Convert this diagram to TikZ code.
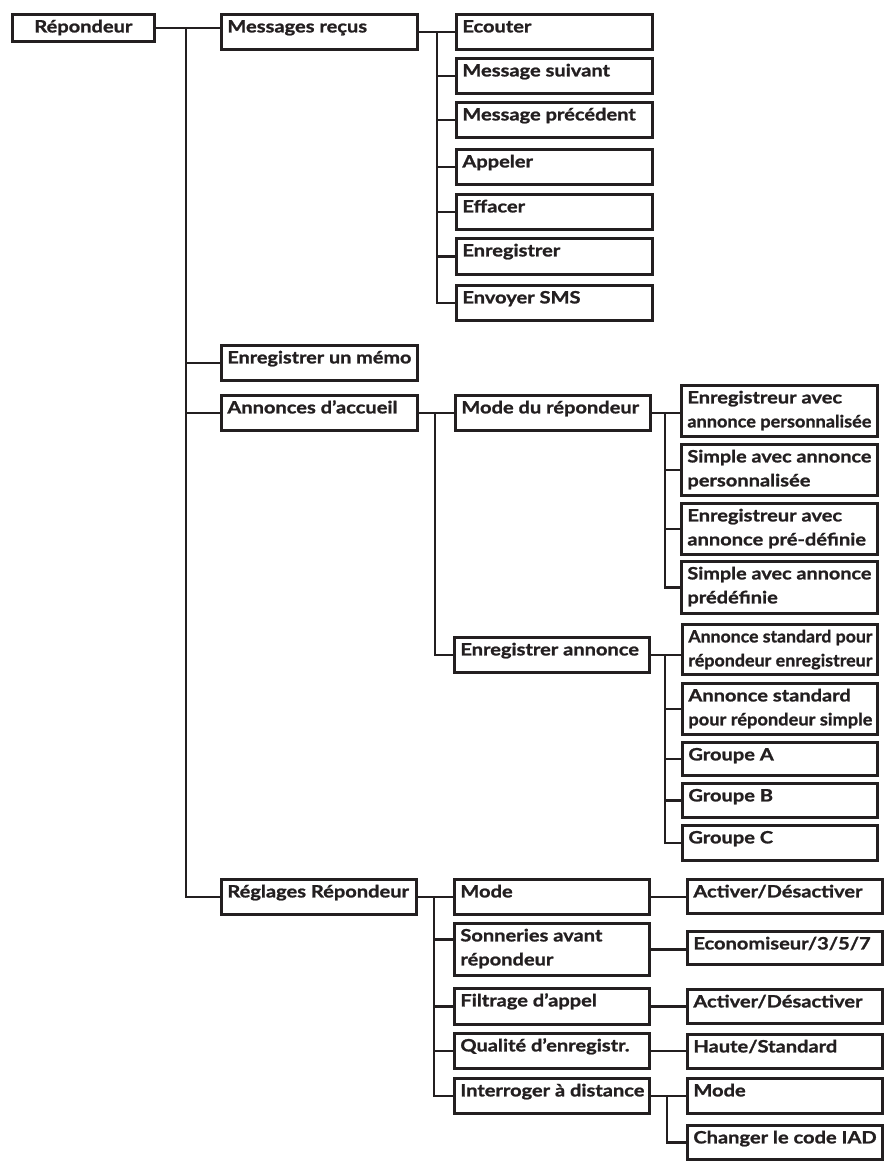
\documentclass[tikz,border=0pt]{standalone}
\usepackage{fontspec}
\setmainfont{Lato}[FakeStretch=1.18, BoldFeatures={FakeBold=1.2}]
\usepackage{graphicx}
\usetikzlibrary{positioning}
\definecolor{ink}{RGB}{35,31,32}
% squeeze a line that would not fit in a box
\newsavebox{\fitbox}
\newcommand{\fitline}[1]{\sbox{\fitbox}{#1}\ifdim\wd\fitbox>184pt\resizebox{184pt}{\height}{#1}\else\usebox{\fitbox}\fi}
% box content: width, height, text (top aligned)
\newcommand{\mitem}[4][\leftskip=6pt]{\parbox[c][#3pt][t]{#2pt}{\rightskip=0pt plus 1fil #1\baselineskip=24pt\rule{0pt}{18pt}#4}}
\newcommand{\mitemii}[4]{\mitem{#1}{#2}{\fitline{#3}\\\fitline{#4}}}
\tikzset{
    menu/.style={draw=ink, line width=2.8pt, inner sep=0pt, anchor=north west, text=ink, font=\fontsize{17pt}{24pt}\selectfont\bfseries},
    link/.style={draw=ink, line width=2.8pt},
}

\begin{document}
\begin{tikzpicture}[x=1pt, y=-1pt]
    \useasboundingbox (0,0) rectangle (890,1168);

    % Root and first level
    \node[menu] (repondeur) at (11,13) {\mitem[\centering]{142}{27}{Répondeur}};
    \node[menu] (messages) at (220,13) {\mitem{196}{35}{\fitline{Messages reçus}}};
    \node[menu] (memo) at (220,344) {\mitem{196}{35}{\fitline{Enregistrer un mémo}}};
    \node[menu] (annonces) at (220,394) {\mitem{196}{35}{\fitline{Annonces d’accueil}}};
    \node[menu] (reglages) at (220,878) {\mitem{195}{35}{\fitline{Réglages Répondeur}}};

    % Messages recus
    \node[menu] (ecouter) at (455,13) {\mitem{196}{35}{\fitline{Ecouter}}};
    \node[menu] (suivant) at (455,57) {\mitem{196}{35}{\fitline{Message suivant}}};
    \node[menu] (precedent) at (455,101) {\mitem{196}{35}{\fitline{Message précédent}}};
    \node[menu] (appeler) at (455,148) {\mitem{196}{35}{\fitline{Appeler}}};
    \node[menu] (effacer) at (455,193) {\mitem{196}{35}{\fitline{Effacer}}};
    \node[menu] (enregistrer) at (455,237) {\mitem{196}{36}{\fitline{Enregistrer}}};
    \node[menu] (envoyer) at (455,284) {\mitem{196}{35}{\fitline{Envoyer SMS}}};

    % Annonces d'accueil
    \node[menu] (modrep) at (454,394) {\mitem{195}{35}{\fitline{Mode du répondeur}}};
    \node[menu] (enrannonce) at (453,636) {\mitem{195}{35}{\fitline{Enregistrer annonce}}};

    \node[menu] (enrperso) at (680,384) {\mitemii{196}{51}{Enregistreur avec}{annonce personnalisée}};
    \node[menu] (simperso) at (680,443) {\mitemii{196}{51}{Simple avec annonce}{personnalisée}};
    \node[menu] (enrpredef) at (680,502) {\mitemii{196}{51}{Enregistreur avec}{annonce pré-définie}};
    \node[menu] (simpredef) at (680,560) {\mitemii{196}{52}{Simple avec annonce}{prédéfinie}};

    \node[menu] (stdenr) at (681,623) {\mitemii{195}{50}{Annonce standard pour}{répondeur enregistreur}};
    \node[menu] (stdsimple) at (681,682) {\mitemii{195}{51}{Annonce standard}{pour répondeur simple}};
    \node[menu] (groupa) at (681,741) {\mitem{195}{33}{\fitline{Groupe A}}};
    \node[menu] (groupb) at (681,782) {\mitem{195}{34}{\fitline{Groupe B}}};
    \node[menu] (groupc) at (681,824) {\mitem{195}{35}{\fitline{Groupe C}}};

    % Reglages repondeur
    \node[menu] (mode) at (453,878) {\mitem{195}{35}{\fitline{Mode}}};
    \node[menu] (sonneries) at (453,922) {\mitemii{195}{52}{Sonneries avant}{répondeur}};
    \node[menu] (filtrage) at (453,987) {\mitem{195}{36}{\fitline{Filtrage d’appel}}};
    \node[menu] (qualite) at (453,1032) {\mitem{195}{35}{\fitline{Qualité d’enregistr.}}};
    \node[menu] (interroger) at (453,1077) {\mitem{195}{35}{\fitline{Interroger à distance}}};

    \node[menu] (activer) at (686,878) {\mitem{195}{34}{\fitline{Activer/Désactiver}}};
    \node[menu] (econ) at (686,930) {\mitem{195}{33}{\fitline{Economiseur/3/5/7}}};
    \node[menu] (activerdeux) at (686,988) {\mitem{195}{34}{\fitline{Activer/Désactiver}}};
    \node[menu] (haute) at (686,1033) {\mitem{195}{34}{\fitline{Haute/Standard}}};
    \node[menu] (modeiad) at (686,1077) {\mitem{195}{35}{\fitline{Mode}}};
    \node[menu] (changer) at (686,1124) {\mitem{195}{34}{\fitline{Changer le code IAD}}};

    % Trunk positions
    \coordinate (T1) at (186,0);
    \coordinate (T2) at (437,0);
    \coordinate (T3) at (435,0);
    \coordinate (T4) at (665,0);
    \coordinate (T5) at (665,0);
    \coordinate (T6) at (434,0);
    \coordinate (T7) at (667,0);
    \coordinate (sonstub) at ([yshift=10pt]sonneries.west);

    % First level links
    \draw[link] (repondeur.east) -- (messages.west |- repondeur.east);
    \draw[link] (T1 |- repondeur.east) -- (T1 |- reglages.west) -- (reglages.west);
    \foreach \n in {memo,annonces} {
        \draw[link] (T1 |- \n.west) -- (\n.west);
    }

    % Messages recus links
    \draw[link] (messages.east) -- (ecouter.west);
    \draw[link] (T2 |- ecouter.west) -- (T2 |- envoyer.west) -- (envoyer.west);
    \foreach \n in {suivant,precedent,appeler,effacer,enregistrer} {
        \draw[link] (T2 |- \n.west) -- (\n.west);
    }

    % Annonces d'accueil links
    \draw[link] (annonces.east) -- (modrep.west);
    \draw[link] (T3 |- annonces.east) -- (T3 |- enrannonce.west) -- (enrannonce.west);
    \draw[link] (modrep.east) -- (enrperso.west |- modrep.east);
    \draw[link] (T4 |- modrep.east) -- (T4 |- simpredef.west) -- (simpredef.west);
    \foreach \n in {simperso,enrpredef} {
        \draw[link] (T4 |- \n.west) -- (\n.west);
    }
    \draw[link] (enrannonce.east) -- (stdenr.west |- enrannonce.east);
    \draw[link] (T5 |- enrannonce.east) -- (T5 |- groupc.west) -- (groupc.west);
    \foreach \n in {stdsimple,groupa,groupb} {
        \draw[link] (T5 |- \n.west) -- (\n.west);
    }

    % Reglages repondeur links
    \draw[link] (reglages.east) -- (mode.west);
    \draw[link] (T6 |- reglages.east) -- (T6 |- interroger.west) -- (interroger.west);
    \draw[link] (T6 |- sonstub) -- (sonstub);
    \foreach \n in {filtrage,qualite} {
        \draw[link] (T6 |- \n.west) -- (\n.west);
    }
    \foreach \a/\b in {mode/activer,sonneries/econ,filtrage/activerdeux,qualite/haute} {
        \draw[link] (\a.east) -- (\b.west |- \a.east);
    }
    \draw[link] (interroger.east) -- (modeiad.west |- interroger.east);
    \draw[link] (T7 |- interroger.east) -- (T7 |- changer.west) -- (changer.west);
\end{tikzpicture}
\end{document}
